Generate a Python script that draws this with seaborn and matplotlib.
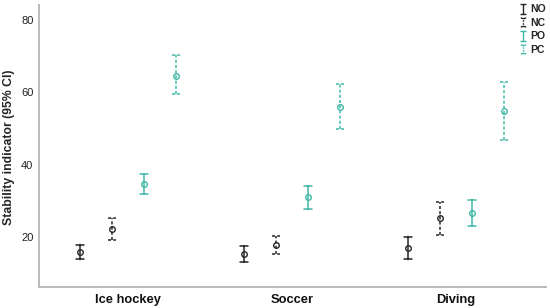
import numpy as np
import pandas as pd
import matplotlib
matplotlib.use("Agg")
import matplotlib.pyplot as plt
import seaborn as sns
from matplotlib.path import Path
from matplotlib.lines import Line2D

# ---- data ----
sports = ["Ice hockey", "Soccer", "Diving"]
conditions = ["NO", "NC", "PO", "PC"]
no_mean = [15.8, 15.2, 17.0]
no_low = [13.8, 12.9, 13.7]
no_high = [17.7, 17.4, 20.0]
nc_mean = [22.1, 17.7, 25.2]
nc_low = [19.1, 15.2, 20.5]
nc_high = [25.2, 20.2, 29.7]
po_mean = [34.6, 30.9, 26.6]
po_low = [31.9, 27.8, 23.0]
po_high = [37.3, 34.0, 30.2]
pc_mean = [64.5, 55.9, 54.9]
pc_low = [59.6, 49.8, 46.8]
pc_high = [70.4, 62.4, 62.9]
y_ticks = [20, 40, 60, 80]
y_label = "Stability indicator (95% CI)"

series = {
    "NO": (no_mean, no_low, no_high),
    "NC": (nc_mean, nc_low, nc_high),
    "PO": (po_mean, po_low, po_high),
    "PC": (pc_mean, pc_low, pc_high),
}
rows = []
for cond, (m, lo, hi) in series.items():
    for i, s in enumerate(sports):
        for v in (lo[i], m[i], hi[i]):
            rows.append({"sport": s, "cond": cond, "value": v})
df = pd.DataFrame(rows)

# ---- style ----
sns.set_style("white")
plt.rcParams["font.family"] = ["Liberation Sans", "DejaVu Sans"]

BLACK = "#262626"
TEAL = "#3fb8a6"
palette = {"NO": BLACK, "NC": BLACK, "PO": TEAL, "PC": TEAL}
styles = {"NO": "-", "NC": (0, (2, 1.4)), "PO": "-", "PC": (0, (2, 1.4))}

fig = plt.figure(figsize=(5.5, 3.08), dpi=100)
ax = fig.add_axes([39 / 550, 21.3 / 308, (546 - 39) / 550, (286.7 - 5) / 308])

for cond in conditions:
    sns.pointplot(
        data=df[df["cond"] == cond], x="sport", y="value", hue="cond",
        order=sports, hue_order=conditions, palette=palette,
        estimator="median", errorbar=("pi", 100),
        dodge=0.585, capsize=0.05, linestyle="none",
        marker="o", markersize=4, markeredgewidth=1.0, markerfacecolor="none",
        err_kws={"linewidth": 1.1, "linestyle": styles[cond]},
        legend=False, ax=ax,
    )

ax.set_xlim(-0.543, 2.549)
ax.set_ylim(6.15, 84.2)
ax.set_yticks(y_ticks)
ax.set_xlabel("")
ax.set_ylabel(y_label, fontsize=8.8, fontweight="bold")
ax.tick_params(axis="both", length=0)
ax.tick_params(axis="y", labelsize=8, pad=4, colors="#222222")
ax.tick_params(axis="x", labelsize=9.3, pad=5, colors="#111111")
for lab in ax.get_xticklabels():
    lab.set_fontweight("bold")
for side in ("top", "right"):
    ax.spines[side].set_visible(False)
for side in ("left", "bottom"):
    ax.spines[side].set_color("#b4b4b4")
    ax.spines[side].set_linewidth(1.3)
ax.yaxis.set_label_coords(-0.047, 0.495)

# legend with I-beam glyphs
solid_path = Path(
    [(-0.6, 1), (0.6, 1), (0, 1), (0, -1), (-0.6, -1), (0.6, -1)],
    [Path.MOVETO, Path.LINETO, Path.MOVETO, Path.LINETO, Path.MOVETO, Path.LINETO],
)
dash_path = Path(
    [(-0.6, 1), (0.0, 0.85), (0.6, 1),
     (0, 0.5), (0, 0.15), (0, -0.15), (0, -0.5),
     (-0.6, -1), (0.0, -0.85), (0.6, -1)],
    [Path.MOVETO, Path.LINETO, Path.LINETO,
     Path.MOVETO, Path.LINETO, Path.MOVETO, Path.LINETO,
     Path.MOVETO, Path.LINETO, Path.LINETO],
)
handles = []
for cond in conditions:
    mk = dash_path if cond in ("NC", "PC") else solid_path
    handles.append(Line2D([], [], linestyle="none", marker=mk, markersize=6.5,
                          markeredgewidth=1.0, color=palette[cond]))
leg = ax.legend(handles, conditions, loc="upper right", bbox_to_anchor=(1.0, 1.0),
                bbox_transform=fig.transFigure, frameon=False,
                prop={"size": 7.5, "weight": "bold"}, handlelength=0.6,
                handletextpad=0.4, labelspacing=0.35, borderaxespad=0.2,
                borderpad=0.2)

fig.savefig("out.png", dpi=100)
